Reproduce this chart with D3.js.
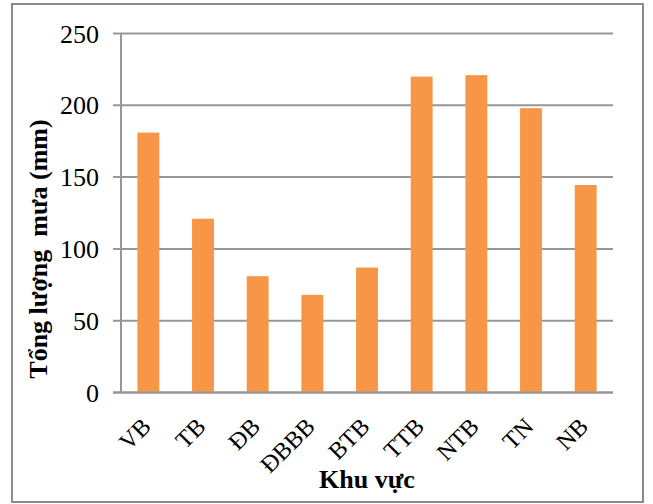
<!DOCTYPE html>
<html lang="vi">
  <head>
    <meta charset="utf-8" />
    <title>Tổng lượng mưa theo khu vực</title>
    <style>
      body {
        margin: 0;
        background: white;
      }
      svg text {
        font-family: "Liberation Serif", "Times New Roman", serif;
        fill: black;
      }
      .yTitle {
        white-space: pre;
      }
    </style>
    <script src="https://d3js.org/d3.v7.min.js"></script>
  </head>
  <body>
    <svg width="653" height="504"></svg>
    <script>
      // data
      var regions = ["VB", "TB", "ĐB", "ĐBBB", "BTB", "TTB", "NTB", "TN", "NB"];
      var rainfall = [181, 121, 81, 68, 87, 220, 221, 198, 144.5];
      var yTicks = [0, 50, 100, 150, 200, 250];

      var svg = d3.select("svg");

      // plot area (note: "top" is reserved on window, so prefix names)
      var plotLeft = 121,
        plotRight = 613,
        plotTop = 33.5,
        plotBottom = 392.5;

      // outer frame
      svg
        .append("rect")
        .attr("x", 12)
        .attr("y", 4)
        .attr("width", 631)
        .attr("height", 498)
        .attr("fill", "white")
        .attr("stroke", "#8c8c8c")
        .attr("stroke-width", 2);

      var x = d3
        .scaleBand()
        .domain(regions)
        .range([plotLeft, plotRight])
        .paddingInner(0.6)
        .paddingOuter(0.3);
      var y = d3.scaleLinear().domain([0, 250]).range([plotBottom, plotTop]);

      // gridlines (they also act as the tick marks on the left)
      svg
        .append("g")
        .selectAll("line")
        .data(yTicks)
        .enter()
        .append("line")
        .attr("x1", plotLeft - 8)
        .attr("x2", plotRight)
        .attr("y1", (d) => y(d))
        .attr("y2", (d) => y(d))
        .attr("stroke", "#979797")
        .attr("stroke-width", 2);

      // y axis line
      svg
        .append("line")
        .attr("x1", plotLeft)
        .attr("x2", plotLeft)
        .attr("y1", y(250))
        .attr("y2", y(0))
        .attr("stroke", "#979797")
        .attr("stroke-width", 2);

      // bars
      svg
        .append("g")
        .selectAll("rect")
        .data(regions)
        .enter()
        .append("rect")
        .attr("x", (d) => x(d))
        .attr("width", x.bandwidth())
        .attr("y", (d, i) => y(rainfall[i]))
        .attr("height", (d, i) => y(0) - y(rainfall[i]))
        .attr("fill", "#F79646");

      // redraw baseline on top of bars
      svg
        .append("line")
        .attr("x1", plotLeft - 8)
        .attr("x2", plotRight)
        .attr("y1", y(0))
        .attr("y2", y(0))
        .attr("stroke", "#979797")
        .attr("stroke-width", 2);

      // y tick labels
      svg
        .append("g")
        .selectAll("text")
        .data(yTicks)
        .enter()
        .append("text")
        .attr("x", 99)
        .attr("y", (d) => y(d))
        .attr("dy", "0.35em")
        .attr("text-anchor", "end")
        .attr("font-size", "26px")
        .text((d) => d);

      // x tick labels, rotated
      svg
        .append("g")
        .selectAll("text")
        .data(regions)
        .enter()
        .append("text")
        .attr(
          "transform",
          (d) => "translate(" + (x(d) + x.bandwidth() / 2 + 4) + ",428) rotate(-45)"
        )
        .attr("text-anchor", "end")
        .attr("font-size", "24px")
        .text((d) => d);

      // axis titles
      svg
        .append("text")
        .attr("x", (plotLeft + plotRight) / 2)
        .attr("y", 488)
        .attr("text-anchor", "middle")
        .attr("font-size", "26px")
        .attr("font-weight", "bold")
        .text("Khu vực");

      svg
        .append("text")
        .attr("class", "yTitle")
        .attr("transform", "translate(47,249) rotate(-90)")
        .attr("text-anchor", "middle")
        .attr("font-size", "26px")
        .attr("font-weight", "bold")
        .text("Tổng lượng  mưa (mm)");
    </script>
  </body>
</html>
